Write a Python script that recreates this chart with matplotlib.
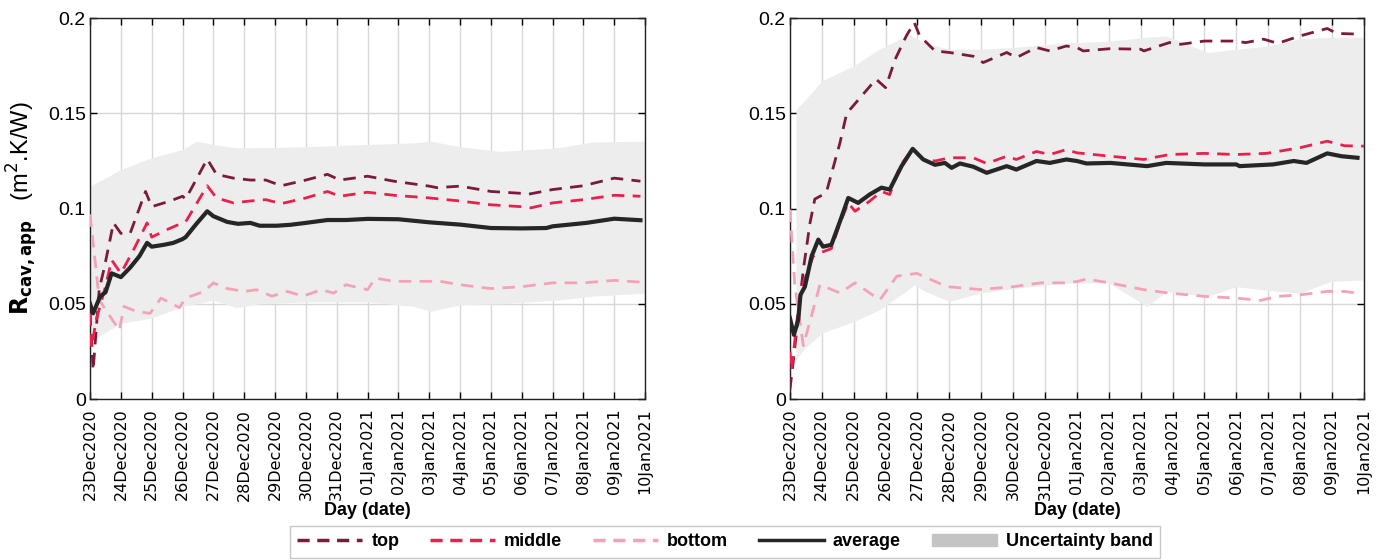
import numpy as np
import matplotlib
matplotlib.use("Agg")
import matplotlib.pyplot as plt
from matplotlib.lines import Line2D
from matplotlib.patches import Patch

# tick labels, one per day
date_labels = ["23Dec2020", "24Dec2020", "25Dec2020", "26Dec2020", "27Dec2020",
               "28Dec2020", "29Dec2020", "30Dec2020", "31Dec2020", "01Jan2021",
               "02Jan2021", "03Jan2021", "04Jan2021", "05Jan2021", "06Jan2021",
               "07Jan2021", "08Jan2021", "09Jan2021", "10Jan2021"]

# ---- left panel ----
left_avg_days = [0, 0.1, 0.33, 0.5, 0.7, 1.0, 1.3, 1.6, 1.85, 2.0, 2.4, 2.7, 3.0, 3.1, 3.45, 3.8,
                 4.0, 4.45, 4.8, 5.2, 5.5, 6.05, 6.5, 7.0, 7.7, 8.3, 9.0, 10.0, 11.0, 12.0, 13.0,
                 14.0, 14.8, 15.0, 16.1, 17.0, 17.85]
left_avg_vals = [0.050, 0.045, 0.054, 0.056, 0.066, 0.064, 0.069, 0.075, 0.082, 0.080, 0.081, 0.082,
                 0.084, 0.085, 0.092, 0.0986, 0.096, 0.093, 0.092, 0.0925, 0.091, 0.091, 0.0915,
                 0.0925, 0.094, 0.094, 0.0946, 0.0944, 0.0928, 0.0916, 0.0898, 0.0896, 0.0898,
                 0.0907, 0.0925, 0.0947, 0.0939]

left_top_days = [0, 0.1, 0.3, 0.45, 0.76, 1.0, 1.3, 1.8, 2.0, 2.6, 3.0, 3.1, 3.8, 4.1, 4.65, 5.2,
                 5.7, 6.2, 7.0, 7.7, 8.1, 9.0, 9.85, 11.0, 11.25, 12.0, 13.0, 14.0, 14.2, 15.0,
                 16.0, 17.0, 17.85]
left_top_vals = [0.045, 0.015, 0.058, 0.068, 0.0925, 0.087, 0.087, 0.109, 0.101, 0.104, 0.1065,
                 0.105, 0.126, 0.118, 0.116, 0.115, 0.115, 0.112, 0.115, 0.118, 0.115, 0.117,
                 0.1144, 0.1118, 0.111, 0.1118, 0.109, 0.108, 0.1075, 0.110, 0.112, 0.116, 0.1144]

left_mid_days = [0, 0.05, 0.2, 0.5, 0.7, 1.0, 1.4, 1.85, 2.0, 2.5, 3.0, 3.1, 3.8, 4.1, 4.65, 5.2,
                 5.7, 6.2, 7.0, 7.7, 8.1, 9.0, 9.85, 11.0, 12.0, 13.0, 14.0, 14.3, 15.0, 16.0,
                 17.0, 17.85]
left_mid_vals = [0.045, 0.027, 0.0416, 0.059, 0.073, 0.066, 0.078, 0.0925, 0.085, 0.089, 0.0925,
                 0.093, 0.112, 0.1056, 0.103, 0.104, 0.1047, 0.1026, 0.1056, 0.109, 0.1065,
                 0.1086, 0.107, 0.1056, 0.104, 0.102, 0.101, 0.1004, 0.103, 0.1047, 0.107, 0.1065]

left_bot_days = [0, 0.3, 0.95, 1.1, 1.5, 1.95, 2.3, 2.9, 3.1, 3.7, 4.0, 4.45, 5.0, 5.4, 5.9, 6.4,
                 6.9, 7.5, 7.9, 8.3, 9.0, 9.25, 9.85, 11.0, 11.35, 12.0, 13.0, 14.0, 15.0, 16.0,
                 17.0, 17.85]
left_bot_vals = [0.097, 0.052, 0.036, 0.0486, 0.046, 0.045, 0.053, 0.048, 0.053, 0.0565, 0.061,
                 0.058, 0.0565, 0.0574, 0.054, 0.0565, 0.054, 0.0574, 0.0556, 0.060, 0.0574,
                 0.0635, 0.0618, 0.0618, 0.0618, 0.060, 0.058, 0.059, 0.061, 0.061, 0.0623, 0.0614]

left_band_days = [0, 1, 2, 3, 3.45, 4, 4.75, 5.5, 7, 9, 10.5, 11.05, 12, 13.3, 15.2, 16.3, 18]
left_band_up = [0.1118, 0.1205, 0.1267, 0.131, 0.1354, 0.1337, 0.132, 0.132, 0.1325, 0.1337,
                0.1345, 0.1354, 0.1325, 0.130, 0.132, 0.135, 0.1354]
left_band_lo = [0.0302, 0.0398, 0.0425, 0.0486, 0.050, 0.052, 0.048, 0.050, 0.051, 0.051,
                0.0486, 0.046, 0.0495, 0.050, 0.052, 0.054, 0.0556]

# ---- right panel ----
right_avg_days = [0, 0.125, 0.26, 0.33, 0.47, 0.68, 0.89, 1.04, 1.3, 1.57, 1.83, 2.14, 2.5, 2.87,
                  3.13, 3.5, 3.85, 4.18, 4.55, 4.86, 5.07, 5.33, 5.75, 6.17, 6.8, 7.1, 7.73, 8.15,
                  8.67, 9.0, 9.3, 10.05, 11.2, 11.8, 13.0, 14.0, 14.1, 15.15, 15.8, 16.2, 16.85,
                  17.3, 17.8]
right_avg_vals = [0.0425, 0.0337, 0.0416, 0.0547, 0.059, 0.075, 0.0837, 0.080, 0.081, 0.0933,
                  0.1056, 0.103, 0.1074, 0.111, 0.110, 0.1223, 0.1314, 0.1258, 0.123, 0.124,
                  0.1214, 0.1237, 0.122, 0.1188, 0.1223, 0.1205, 0.125, 0.124, 0.1258, 0.125,
                  0.1237, 0.124, 0.1223, 0.124, 0.1232, 0.1232, 0.1223, 0.1232, 0.125, 0.124,
                  0.129, 0.1275, 0.1267]

right_top_days = [0, 0.1, 0.42, 0.63, 0.78, 1.0, 1.15, 1.57, 1.78, 1.98, 2.7, 3.0, 3.3, 3.65, 3.9,
                  4.07, 4.55, 5.0, 5.75, 6.06, 6.8, 7.1, 7.73, 8.15, 8.67, 9.0, 9.2, 10.05, 11.0,
                  11.1, 11.9, 12.25, 13.0, 13.9, 14.3, 14.85, 15.3, 16.0, 16.85, 17.15, 17.9]
right_top_vals = [0.005, 0.019, 0.068, 0.0925, 0.105, 0.107, 0.109, 0.1346, 0.150, 0.1539, 0.168,
                  0.1635, 0.1784, 0.1907, 0.1977, 0.1907, 0.1828, 0.182, 0.180, 0.1767, 0.182,
                  0.1793, 0.1846, 0.1828, 0.1854, 0.1846, 0.1828, 0.184, 0.1837, 0.1828, 0.1872,
                  0.1863, 0.188, 0.188, 0.1872, 0.189, 0.1868, 0.1907, 0.1946, 0.192, 0.1916]

right_mid_days = [0, 0.05, 0.26, 0.42, 0.73, 0.94, 1.3, 1.57, 1.83, 2.04, 2.5, 2.87, 3.13, 3.45,
                  3.85, 4.18, 4.55, 5.0, 5.75, 6.17, 6.8, 7.1, 7.73, 8.15, 8.67, 9.0, 10.05, 11.1,
                  11.9, 13.0, 14.0, 14.95, 16.0, 16.85, 17.4, 18.0]
right_mid_vals = [0.025, 0.015, 0.047, 0.061, 0.075, 0.0767, 0.079, 0.0925, 0.103, 0.0986, 0.1039,
                  0.109, 0.1074, 0.1223, 0.1314, 0.1258, 0.125, 0.1267, 0.1267, 0.1237, 0.1275,
                  0.1258, 0.130, 0.1284, 0.131, 0.1293, 0.1275, 0.1258, 0.1284, 0.129, 0.1284,
                  0.129, 0.132, 0.1354, 0.133, 0.1328]

right_bot_days = [0, 0.15, 0.42, 0.94, 1.57, 2.04, 2.82, 3.35, 3.98, 4.92, 5.97, 7.0, 7.86, 8.67,
                  9.0, 9.3, 10.05, 11.1, 11.9, 13.0, 14.0, 14.75, 15.3, 16.0, 16.85, 17.4, 17.8]
right_bot_vals = [0.0995, 0.060, 0.028, 0.060, 0.0557, 0.061, 0.052, 0.0645, 0.066, 0.059, 0.0575,
                  0.059, 0.061, 0.061, 0.0617, 0.063, 0.0609, 0.0574, 0.0556, 0.0539, 0.053,
                  0.0518, 0.0539, 0.0547, 0.0565, 0.0565, 0.0556]

right_band_days = [0.19, 0.42, 1.0, 2.0, 2.8, 3.76, 3.9, 4.18, 5.0, 5.95, 7.0, 8.67, 10.0, 11.2,
                   11.8, 13.1, 14.0, 15.0, 16.0, 16.95, 18.0]
right_band_up = [0.152, 0.156, 0.167, 0.175, 0.1837, 0.1916, 0.190, 0.1872, 0.1837, 0.1837, 0.1846,
                 0.187, 0.188, 0.190, 0.1907, 0.182, 0.1837, 0.1854, 0.1893, 0.190, 0.190]
right_band_lo = [0.0205, 0.0258, 0.0346, 0.0407, 0.0468, 0.058, 0.060, 0.057, 0.0512, 0.0556,
                 0.058, 0.061, 0.061, 0.0486, 0.0565, 0.0539, 0.059, 0.057, 0.0556, 0.0617, 0.0626]

C_TOP = "#7a1b3c"
C_MID = "#e8204c"
C_BOT = "#f4a3b6"
C_AVG = "#262626"
C_BAND = "#ededed"

plt.rcParams["font.family"] = ["Liberation Sans", "DejaVu Sans"]

fig = plt.figure(figsize=(13.81, 5.6), dpi=100)
ax1 = fig.add_axes([0.0652, 0.2875, 0.4019, 0.680])
ax2 = fig.add_axes([0.572, 0.2875, 0.4156, 0.680])

panels = [
    (ax1, left_band_days, left_band_up, left_band_lo, left_top_days, left_top_vals,
     left_mid_days, left_mid_vals, left_bot_days, left_bot_vals, left_avg_days, left_avg_vals),
    (ax2, right_band_days, right_band_up, right_band_lo, right_top_days, right_top_vals,
     right_mid_days, right_mid_vals, right_bot_days, right_bot_vals, right_avg_days, right_avg_vals),
]

for (ax, bd, bu, bl, td, tv, md, mv, lod, lov, ad, av) in panels:
    ax.fill_between(bd, bl, bu, color=C_BAND, lw=0, zorder=1)
    ax.plot(lod, lov, color=C_BOT, lw=2, dashes=(4.5, 3), zorder=3)
    ax.plot(td, tv, color=C_TOP, lw=2, dashes=(4.5, 3), zorder=4)
    ax.plot(md, mv, color=C_MID, lw=2, dashes=(4.5, 3), zorder=4)
    ax.plot(ad, av, color=C_AVG, lw=3, zorder=5)

    ax.set_xlim(0, 18)
    ax.set_ylim(0, 0.2)
    ax.set_xticks(np.arange(19))
    ax.set_xticklabels(date_labels, rotation=90, fontsize=11.5, family="DejaVu Sans")
    ax.set_yticks([0, 0.05, 0.1, 0.15, 0.2])
    ax.set_yticklabels(["0", "0.05", "0.1", "0.15", "0.2"], fontsize=14)
    ax.tick_params(direction="in", top=True, right=True, length=5, width=1, pad=3)
    ax.tick_params(axis="x", pad=7)
    ax.grid(True, color="#d8d8d8", lw=1, zorder=0)
    ax.set_axisbelow(True)
    for s in ax.spines.values():
        s.set_color("#222222")
        s.set_linewidth(1)
    ax.set_xlabel("Day (date)", fontsize=13, fontweight="bold", labelpad=1)

ax1.set_ylabel(r"$\mathbf{R}_{\mathbf{cav,app}}$   (m$^{2}$.K/W)", fontsize=17, labelpad=6)

handles = [
    Line2D([], [], color=C_TOP, lw=2.5, dashes=(3.5, 2.2)),
    Line2D([], [], color=C_MID, lw=2.5, dashes=(3.5, 2.2)),
    Line2D([], [], color=C_BOT, lw=2.5, dashes=(3.5, 2.2)),
    Line2D([], [], color=C_AVG, lw=2.5),
    Patch(facecolor="#c4c4c4", edgecolor="#c4c4c4"),
]
labels = ["top", "middle", "bottom", "average", "Uncertainty band"]
leg = fig.legend(handles, labels, loc="lower center", bbox_to_anchor=(0.525, -0.012), ncol=5,
                 frameon=True, fancybox=False, edgecolor="#bbbbbb", fontsize=13,
                 handlelength=3.6, handletextpad=0.5, columnspacing=1.7, borderpad=0.4)
for t in leg.get_texts():
    t.set_fontweight("bold")

fig.savefig("out.png", dpi=100)
